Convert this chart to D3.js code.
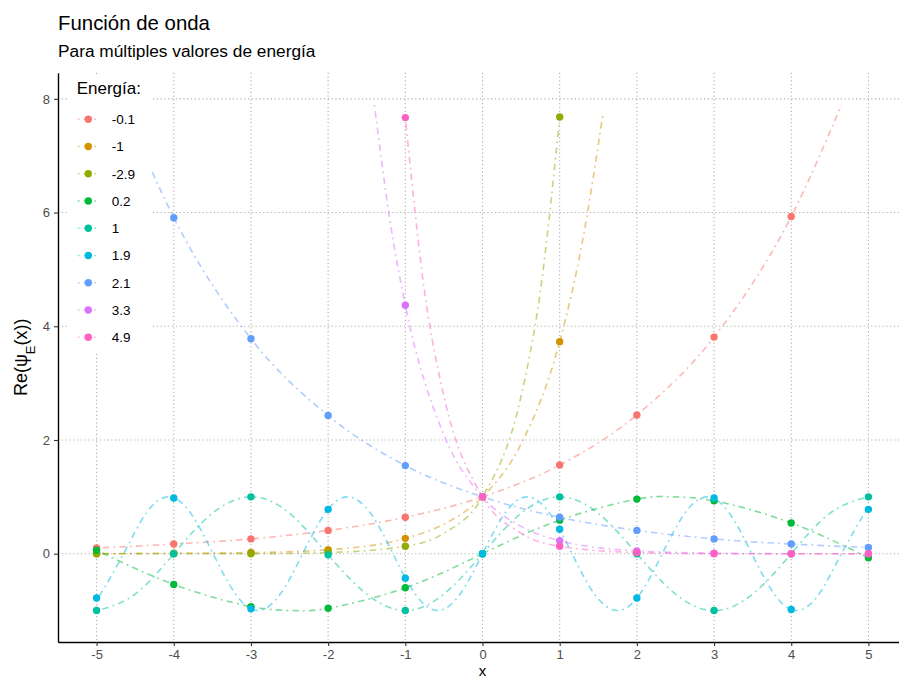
<!DOCTYPE html>
<html>
<head>
<meta charset="utf-8">
<script src="https://cdn.jsdelivr.net/npm/d3@7"></script>
<style>
  body { margin: 0; background: #fff; }
  text { font-family: "Liberation Sans", Arial, Helvetica, sans-serif; }
</style>
</head>
<body>
<svg id="chart" width="899" height="678"></svg>
<script>
// --- data ---
const energies = ['-0.1', '-1', '-2.9', '0.2', '1', '1.9', '2.1', '3.3', '4.9'];
const energyColors = ['#F8766D', '#D39200', '#93AA00', '#00BA38', '#00C19F', '#00B9E3', '#619CFF', '#DB72FB', '#FF61C3'];

const xTicks = [-5, -4, -3, -2, -1, 0, 1, 2, 3, 4, 5];
const yTicks = [0, 2, 4, 6, 8];

// points at integer x (null = off the chart)
const ptsNeg01 = [0.10, 0.17, 0.26, 0.41, 0.64, 1.00, 1.56, 2.44, 3.81, 5.93, null];
const ptsNeg1  = [0.00, 0.01, 0.02, 0.07, 0.27, 1.00, 3.73, null, null, null, null];
const ptsNeg29 = [0.00, 0.00, 0.00, 0.02, 0.13, 1.00, 7.68, null, null, null, null];
const pts02    = [0.06, -0.54, -0.93, -0.96, -0.60, 0.00, 0.59, 0.96, 0.93, 0.54, -0.07];
const pts1     = [-1.00, 0.00, 1.00, -0.02, -1.00, 0.00, 1.00, 0.00, -1.00, 0.00, 1.00];
const pts19    = [-0.78, 0.98, -0.97, 0.78, -0.43, 0.00, 0.43, -0.78, 0.98, -0.98, 0.78];
const pts21    = [null, 5.91, 3.78, 2.43, 1.55, 1.00, 0.64, 0.41, 0.26, 0.17, 0.11];
const pts33    = [null, null, null, null, 4.37, 1.00, 0.23, 0.05, 0.01, 0.00, 0.00];
const pts49    = [null, null, null, null, 7.67, 1.00, 0.13, 0.02, 0.00, 0.00, 0.00];

// dashed curve samples
const lineNeg01X = [-5, -4, -3, -2, -1, 0, 1, 2, 3, 4, 4.65];
const lineNeg01Y = [0.10, 0.17, 0.26, 0.41, 0.64, 1.00, 1.56, 2.44, 3.81, 5.93, 7.89];
const lineNeg1X  = [-5, -4, -3, -2, -1, -0.5, 0, 0.5, 1, 1.3, 1.56];
const lineNeg1Y  = [0.00, 0.01, 0.02, 0.07, 0.27, 0.52, 1.00, 1.93, 3.73, 5.53, 7.73];
const lineNeg29X = [-5, -4, -3, -2, -1, -0.5, 0, 0.5, 0.75, 1];
const lineNeg29Y = [0.00, 0.00, 0.00, 0.02, 0.13, 0.36, 1.00, 2.77, 4.62, 7.68];
const line02X    = [-5, -4, -3, -2.45, -2, -1, 0, 1, 2, 2.45, 3, 4, 5];
const line02Y    = [0.06, -0.54, -0.93, -1.00, -0.96, -0.60, 0.00, 0.59, 0.96, 1.00, 0.93, 0.54, -0.07];
const line1X     = [-5, -4.5, -4, -3.5, -3, -2.5, -2, -1.5, -1, -0.5, 0, 0.5, 1, 1.5, 2, 2.5, 3, 3.5, 4, 4.5, 5];
const line1Y     = [-1.00, -0.71, 0.00, 0.71, 1.00, 0.71, -0.02, -0.71, -1.00, -0.71, 0.00, 0.71, 1.00, 0.71, 0.00, -0.71, -1.00, -0.71, 0.00, 0.71, 1.00];
const line19X    = [-5, -4.95, -4.65, -4.36, -4.07, -3.78, -3.49, -3.20, -2.91, -2.62, -2.33, -2.04, -1.75, -1.45, -1.16, -0.87, -0.58, -0.29,
                    0, 0.29, 0.58, 0.87, 1.16, 1.45, 1.75, 2.04, 2.33, 2.62, 2.91, 3.20, 3.49, 3.78, 4.07, 4.36, 4.65, 4.95, 5];
const line19Y    = [-0.78, -0.71, 0.00, 0.71, 1.00, 0.71, 0.00, -0.71, -1.00, -0.71, 0.00, 0.71, 1.00, 0.71, 0.00, -0.71, -1.00, -0.71,
                    0.00, 0.71, 1.00, 0.71, 0.00, -0.71, -1.00, -0.71, 0.00, 0.71, 1.00, 0.71, 0.00, -0.71, -1.00, -0.71, 0.00, 0.71, 0.78];
const line21X    = [-4.65, -4, -3, -2, -1, 0, 1, 2, 3, 4, 5];
const line21Y    = [7.89, 5.91, 3.78, 2.43, 1.55, 1.00, 0.64, 0.41, 0.26, 0.17, 0.11];
const line33X    = [-1.4, -1.2, -1, -0.5, 0, 0.5, 1, 2, 3, 4, 5];
const line33Y    = [7.89, 5.87, 4.37, 2.09, 1.00, 0.48, 0.23, 0.05, 0.01, 0.00, 0.00];
const line49X    = [-1, -0.75, -0.5, 0, 0.5, 1, 2, 3, 4, 5];
const line49Y    = [7.67, 4.60, 2.77, 1.00, 0.36, 0.13, 0.02, 0.00, 0.00, 0.00];

const pointSets = [ptsNeg01, ptsNeg1, ptsNeg29, pts02, pts1, pts19, pts21, pts33, pts49];
const lineXs = [lineNeg01X, lineNeg1X, lineNeg29X, line02X, line1X, line19X, line21X, line33X, line49X];
const lineYs = [lineNeg01Y, lineNeg1Y, lineNeg29Y, line02Y, line1Y, line19Y, line21Y, line33Y, line49Y];
const oscillating = ['0.2', '1', '1.9'];

const series = energies.map((e, i) => ({
  energy: e,
  color: energyColors[i],
  points: xTicks.map((xv, j) => ({ x: xv, y: pointSets[i][j] })).filter(d => d.y !== null),
  line: lineXs[i].map((xv, j) => ({ x: xv, y: lineYs[i][j] }))
}));

// --- layout ---
const svg = d3.select('#chart');
const panel = { left: 58, right: 907, top: 72.7, bottom: 642 };
const dash = '1.8,4.2,6.5,4.2';

const x = d3.scaleLinear().domain([-5.5, 5.5]).range([panel.left, panel.right]);
const y = d3.scaleLinear().domain([-1.553, 8.46]).range([panel.bottom, panel.top]);

// grid
const grid = svg.append('g').attr('class', 'grid')
  .attr('stroke', '#b0b0b0').attr('stroke-width', 1.1).attr('stroke-dasharray', '1.2,2.6');
grid.selectAll('.gx').data(xTicks).enter().append('line')
  .attr('x1', d => x(d)).attr('x2', d => x(d))
  .attr('y1', panel.top).attr('y2', panel.bottom);
grid.selectAll('.gy').data(yTicks).enter().append('line')
  .attr('x1', panel.left).attr('x2', panel.right)
  .attr('y1', d => y(d)).attr('y2', d => y(d));

// dashed curves
const lineGen = d3.line().x(d => x(d.x)).y(d => y(d.y));
const lines = svg.append('g').attr('class', 'lines');
series.forEach(s => {
  lines.append('path')
    .datum(s.line)
    .attr('fill', 'none')
    .attr('stroke', s.color)
    .attr('stroke-opacity', 0.5)
    .attr('stroke-width', 1.6)
    .attr('stroke-dasharray', dash)
    .attr('d', lineGen.curve(oscillating.includes(s.energy) ? d3.curveNatural : d3.curveMonotoneX));
});

// points
const pts = svg.append('g').attr('class', 'points');
series.forEach(s => {
  pts.selectAll(null).data(s.points).enter().append('circle')
    .attr('cx', d => x(d.x))
    .attr('cy', d => y(d.y))
    .attr('r', 3.7)
    .attr('fill', s.color);
});

// axes
const xAxis = svg.append('g')
  .attr('transform', `translate(0,${panel.bottom})`)
  .call(d3.axisBottom(x).tickValues(xTicks).tickSize(4).tickSizeOuter(0).tickPadding(4)
    .tickFormat(d => String(d)));
const yAxis = svg.append('g')
  .attr('transform', `translate(${panel.left},0)`)
  .call(d3.axisLeft(y).tickValues(yTicks).tickSize(4).tickSizeOuter(0).tickPadding(4)
    .tickFormat(d => String(d)));

[xAxis, yAxis].forEach(a => {
  a.select('.domain').attr('stroke', '#000').attr('stroke-width', 1.4);
  a.selectAll('.tick line').attr('stroke', '#333').attr('stroke-width', 1.1);
  a.selectAll('.tick text')
    .attr('fill', '#4d4d4d')
    .style('font-size', '13px')
    .style('font-family', '"Liberation Sans", Arial, sans-serif');
});

// axis titles
svg.append('text')
  .attr('x', (panel.left + panel.right) / 2)
  .attr('y', 676)
  .attr('text-anchor', 'middle')
  .style('font-size', '15px')
  .text('x');

const yTitle = svg.append('text')
  .attr('transform', `translate(27,${(panel.top + panel.bottom) / 2}) rotate(-90)`)
  .attr('text-anchor', 'middle')
  .style('font-size', '18px');
yTitle.append('tspan').text('Re(ψ');
yTitle.append('tspan').attr('baseline-shift', 'sub').style('font-size', '13px').text('E');
yTitle.append('tspan').text('(x))');

// titles
svg.append('text')
  .attr('x', 58).attr('y', 30)
  .style('font-size', '20.4px')
  .text('Función de onda');
svg.append('text')
  .attr('x', 58).attr('y', 57)
  .style('font-size', '17.3px')
  .text('Para múltiples valores de energía');

// legend (inside the panel, white background)
const legend = svg.append('g').attr('class', 'legend');
legend.append('rect')
  .attr('x', 67).attr('y', 74)
  .attr('width', 84).attr('height', 278)
  .attr('fill', '#fff');
legend.append('text')
  .attr('x', 76.7).attr('y', 94)
  .style('font-size', '17px')
  .text('Energía:');

const items = legend.selectAll('.item').data(series).enter().append('g')
  .attr('transform', (d, i) => `translate(0,${119.3 + i * 27.25})`);
items.append('line')
  .attr('x1', 77.7).attr('x2', 99)
  .attr('stroke', d => d.color)
  .attr('stroke-opacity', 0.5)
  .attr('stroke-width', 1.6)
  .attr('stroke-dasharray', dash);
items.append('circle')
  .attr('cx', 88.3).attr('r', 3.7)
  .attr('fill', d => d.color);
items.append('text')
  .attr('x', 111.7).attr('dy', '0.35em')
  .style('font-size', '13.5px')
  .text(d => d.energy);
</script>
</body>
</html>
